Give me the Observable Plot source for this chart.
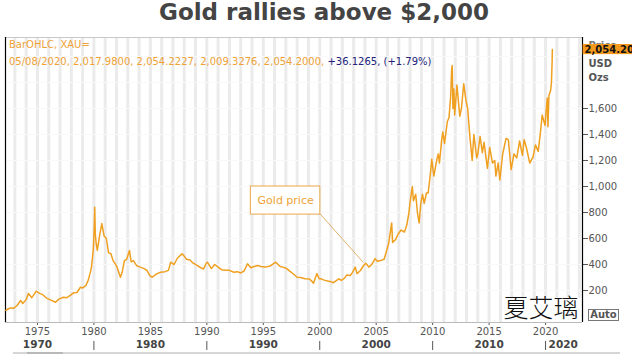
<!DOCTYPE html>
<html><head><meta charset="utf-8">
<script src="https://cdn.jsdelivr.net/npm/d3@7"></script>
<script src="https://cdn.jsdelivr.net/npm/@observablehq/plot@0.6"></script>
<style>
body{margin:0;background:#fff;}
#wrap{position:relative;width:632px;height:354px;overflow:hidden;background:#fff;}
#title{height:36px;line-height:24px;text-align:center;font-family:'DejaVu Sans';font-weight:700;font-size:23px;color:#444;padding-left:16px;box-sizing:border-box}
.ov{position:absolute;font-family:'DejaVu Sans';font-size:10px;line-height:12px;white-space:nowrap}
</style></head>
<body>
<div id="wrap">
<div id="title">Gold rallies above $2,000</div>
<div id="chart"></div>
<div class="ov" style="left:9px;top:39px;color:#eea236">BarOHLC, XAU=</div>
<div class="ov" style="left:9px;top:56px;color:#eea236"><span id="ohlc"></span><span style="color:#22227a" id="chg"></span></div>
<div class="ov" style="left:588px;top:309px;width:29px;height:10px;line-height:10px;border:1px solid #777;font-weight:bold;color:#555;text-align:center">Auto</div>
<div style="position:absolute;left:13px;top:352px;width:607px;height:2px;background:#d6d6d6"></div>
<div style="position:absolute;left:27px;top:352px;width:36px;height:2px;background:#b8b8b8"></div>
</div>
<script>
// Gold price (USD/oz)
const years = [1972.2,1972.4,1972.6,1972.9,1973.2,1973.5,1973.7,1974.0,1974.2,1974.5,1974.9,1975.2,1975.5,1975.8,1976.1,1976.6,1976.9,1977.3,1977.6,1977.9,1978.2,1978.5,1978.8,1979.0,1979.3,1979.5,1979.7,1979.8,1979.95,1980.03,1980.07,1980.12,1980.2,1980.3,1980.5,1980.7,1980.9,1981.1,1981.3,1981.5,1981.7,1982.0,1982.35,1982.5,1982.7,1982.9,1983.15,1983.3,1983.5,1983.8,1984.1,1984.4,1984.7,1984.95,1985.15,1985.4,1985.6,1985.9,1986.3,1986.6,1986.8,1987.1,1987.4,1987.8,1987.95,1988.2,1988.5,1988.8,1989.1,1989.4,1989.7,1989.95,1990.05,1990.4,1990.7,1991.0,1991.3,1991.7,1992.0,1992.4,1992.7,1993.0,1993.3,1993.6,1993.9,1994.2,1994.5,1994.8,1995.2,1995.6,1996.1,1996.5,1996.8,1997.1,1997.4,1997.7,1998.0,1998.3,1998.7,1999.1,1999.45,1999.75,1999.95,2000.1,2000.4,2000.7,2001.0,2001.2,2001.7,2001.9,2002.2,2002.4,2002.7,2002.9,2003.15,2003.3,2003.6,2003.9,2004.1,2004.35,2004.6,2004.9,2005.1,2005.4,2005.7,2005.95,2006.1,2006.37,2006.45,2006.7,2006.95,2007.2,2007.5,2007.7,2007.9,2008.0,2008.2,2008.3,2008.5,2008.65,2008.8,2008.95,2009.1,2009.25,2009.45,2009.6,2009.8,2009.92,2010.1,2010.4,2010.5,2010.6,2010.8,2010.9,2011.05,2011.3,2011.45,2011.6,2011.68,2011.73,2011.8,2011.88,2011.95,2012.15,2012.4,2012.55,2012.75,2012.95,2013.1,2013.3,2013.5,2013.65,2013.9,2014.0,2014.2,2014.4,2014.55,2014.85,2015.05,2015.3,2015.5,2015.6,2015.8,2015.95,2016.2,2016.5,2016.7,2016.95,2017.2,2017.45,2017.7,2017.95,2018.1,2018.3,2018.6,2018.9,2019.1,2019.35,2019.55,2019.7,2019.95,2020.05,2020.15,2020.21,2020.3,2020.45,2020.52,2020.58,2020.6];
const prices = [48,58,66,64,85,123,100,130,177,145,195,178,166,142,130,110,134,148,145,162,182,185,225,220,240,280,345,390,520,700,840,640,560,508,620,715,620,600,490,484,430,390,302,340,430,440,508,420,430,390,380,370,354,315,302,318,330,340,345,355,418,400,450,482,470,440,435,410,395,379,365,410,418,369,400,380,360,355,355,340,345,335,350,405,375,385,392,385,380,388,418,385,378,367,345,325,302,300,290,288,257,330,290,290,280,273,268,260,290,278,295,320,315,340,380,330,354,395,408,380,400,445,425,430,440,515,560,720,570,590,635,665,650,700,800,880,1000,890,940,800,720,870,940,870,950,950,1100,1210,1080,1220,1250,1180,1360,1420,1330,1500,1530,1700,1900,1930,1600,1750,1550,1780,1540,1600,1790,1660,1600,1380,1200,1400,1220,1250,1385,1260,1340,1140,1300,1180,1200,1080,1180,1050,1250,1370,1360,1130,1250,1220,1350,1240,1360,1300,1180,1230,1320,1270,1420,1550,1470,1580,1680,1460,1700,1740,1800,1960,2054.2];

const ohlc = ["05/08/2020", "2,017.9800", "2,054.2227", "2,009.3276", "2,054.2000"];
const change = ["+36.1265", "(+1.79%)"];
const xTicks = [1975,1980,1985,1990,1995,2000,2005,2010,2015,2020];
const yTicks = [200,400,600,800,1000,1200,1400,1600];
const decadeLabels = ["1970","1980","1990","2000","2010"];
const decadeLabelYears = [1975,1985,1995,2005,2015];
const decadeSeps = [1980,1990,2000,2010,2020];
const lastDecade = ["2020"];
const gridYears = d3.range(1973, 2024);
const gridValues = [200,400,600,800,1000,1200,1400,1600,1800,2000];
const noteBox = [{x1: 1993.9, x2: 2000.05, y1: 784, y2: 1000}];
const noteLink = [{x1: 2000.0, y1: 792, x2: 2003.87, y2: 415}];
const noteText = [{x: 1996.98, y: 892, t: "Gold price"}];
const watermark = [{x: 2019.6, y: 61, t: "夏艾璃"}];
const axisUnits = ["Price", "USD", "Ozs"];

const xDomain = [1972.17, 2023.27];
const yDomain = [-46, 2146];
const orange = "#f0a020";

document.getElementById("ohlc").textContent = ohlc.join(", ") + ", ";
document.getElementById("chg").textContent = change.join(", ");

const data = years.map((y, i) => ({year: y, price: prices[i]}));
const last = data[data.length - 1];

const chart = Plot.plot({
  width: 632, height: 318,
  marginTop: 1, marginBottom: 32, marginLeft: 5, marginRight: 50,
  style: {fontFamily: "DejaVu Sans", fontSize: "10px", color: "#555", background: "transparent", overflow: "visible"},
  x: {domain: xDomain, ticks: xTicks, tickFormat: d => String(d), tickSize: 3, tickPadding: 2, label: null},
  y: {domain: yDomain, axis: "right", ticks: yTicks, tickFormat: d3.format(","), tickSize: 5, tickPadding: 1, label: null},
  marks: [
    Plot.ruleX(gridYears, {stroke: "#ebebeb", strokeWidth: 3}),
    Plot.ruleY(gridValues, {stroke: "#f9f9f9", strokeWidth: 1}),
    Plot.rect([0], {x1: 2016.3, x2: xDomain[1], y1: yDomain[0], y2: 140, fill: "#fff"}),
    Plot.ruleY([yDomain[1]], {stroke: "#c8c8c8"}),
    Plot.ruleY([yDomain[0]], {stroke: "#bbb"}),
    Plot.ruleX([xDomain[0]], {stroke: "#000", strokeWidth: 1.2}),
    Plot.ruleX([xDomain[1]], {stroke: "#000", strokeWidth: 1.2}),
    Plot.line(data, {x: "year", y: "price", stroke: orange, strokeWidth: 1.5}),
    Plot.link(noteLink, {x1: "x1", y1: "y1", x2: "x2", y2: "y2", stroke: "#d8a048", strokeWidth: 0.8}),
    Plot.rect(noteBox, {x1: "x1", x2: "x2", y1: "y1", y2: "y2", fill: "#fff", stroke: "#e8a848", strokeWidth: 1}),
    Plot.text(noteText, {x: "x", y: "y", text: "t", fill: "#eea236", fontSize: 11, fontFamily: "DejaVu Sans"}),
    Plot.text(watermark, {x: "x", y: "y", text: "t", fill: "#111", fontSize: 25, fontFamily: "Noto Sans CJK SC", fontWeight: 300}),
    Plot.text(decadeLabels, {x: (d, i) => decadeLabelYears[i], text: d => d, frameAnchor: "bottom", dy: 25, fontWeight: "bold", fontSize: 10.5, fill: "#444"}),
    Plot.text(lastDecade, {x: () => 2020, text: d => d, frameAnchor: "bottom", dy: 25, dx: 3, textAnchor: "start", fontWeight: "bold", fontSize: 10.5, fill: "#444"}),
    Plot.ruleX(decadeSeps, {y1: -192, y2: -261, stroke: "#555", strokeWidth: 1}),
    Plot.text([axisUnits[0]], {frameAnchor: "top-right", dx: 6, dy: 4, textAnchor: "start", text: d => d, fontWeight: "bold", fill: "#777"}),
    Plot.text([axisUnits[1]], {frameAnchor: "top-right", dx: 6, dy: 22, textAnchor: "start", text: d => d, fontWeight: "bold", fill: "#555"}),
    Plot.text([axisUnits[2]], {frameAnchor: "top-right", dx: 6, dy: 36, textAnchor: "start", text: d => d, fontWeight: "bold", fill: "#555"}),
    Plot.rect([last], {x1: xDomain[1] + 0.06, x2: xDomain[1] + 6, y1: d => d.price - 40, y2: d => d.price + 38, fill: "#f39a1e"}),
    Plot.text([last], {x: xDomain[1], y: "price", dx: 2, textAnchor: "start", text: d => d3.format(",.3f")(d.price), fontWeight: "bold", fill: "#111", fontSize: 10})
  ]
});
document.getElementById("chart").appendChild(chart);
</script>
</body></html>
